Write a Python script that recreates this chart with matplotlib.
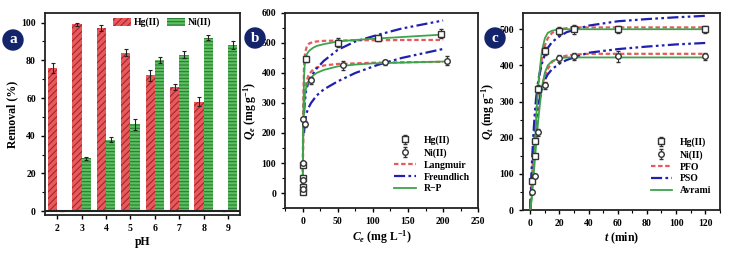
import matplotlib
matplotlib.use("Agg")
import matplotlib.pyplot as plt
import numpy as np
from matplotlib.ticker import MultipleLocator
from matplotlib.patches import Circle

plt.rcParams["font.family"] = ["Liberation Serif", "DejaVu Serif"]
plt.rcParams["font.weight"] = "bold"
plt.rcParams["hatch.linewidth"] = 0.8
plt.rcParams["mathtext.fontset"] = "custom"
plt.rcParams["mathtext.rm"] = "Liberation Serif:bold"
plt.rcParams["mathtext.it"] = "Liberation Serif:italic:bold"
plt.rcParams["mathtext.bf"] = "Liberation Serif:bold"

# panel a - removal vs pH
ph = [2, 3, 4, 5, 6, 7, 8, 9]
hg_removal = [76, 99, 97, 84, 72, 66, 58, 0]
hg_err = [2.5, 1, 1.5, 2, 3, 1.5, 2.5, 0]
ni_removal = [0, 28, 38, 46, 80, 83, 92, 88]
ni_err = [0, 1, 1.5, 3, 1.5, 2, 1.5, 2]

# panel b - isotherms
hg_ce = [0, 0, 0, 0, 5, 50, 108, 197]
hg_qe = [5, 20, 50, 95, 445, 500, 515, 530]
hg_qe_err = [0, 0, 0, 0, 10, 15, 10, 15]
ni_ce = [0, 0, 0, 1, 3, 12, 58, 117, 206]
ni_qe = [15, 45, 100, 245, 230, 375, 425, 435, 440]
ni_qe_err = [0, 0, 0, 0, 10, 12, 15, 8, 15]

c_fit = [0, 1, 2, 3, 4, 6, 8, 10, 15, 20, 30, 50, 75, 100, 150, 200]
hg_langmuir = [0, 300, 420, 455, 472, 488, 495, 499, 503, 505, 507, 508, 509, 509, 510, 510]
ni_langmuir = [0, 200, 290, 330, 352, 375, 390, 398, 412, 418, 425, 430, 432, 434, 436, 437]
hg_rp = [0, 250, 380, 430, 448, 462, 470, 475, 484, 490, 496, 505, 510, 514, 521, 528]
ni_rp = [0, 200, 280, 320, 340, 360, 370, 378, 392, 400, 410, 422, 428, 432, 435, 438]
f_fit = [2, 3, 5, 8, 12, 20, 30, 50, 75, 107, 141, 200]
hg_freundlich = [265, 300, 340, 368, 388, 415, 440, 477, 505, 527, 548, 575]
ni_freundlich = [200, 225, 262, 282, 300, 325, 345, 372, 400, 427, 450, 480]

# panel c - kinetics
hg_t = [1, 3, 3, 5, 10, 20, 30, 60, 120]
hg_qt = [80, 150, 190, 335, 440, 495, 500, 500, 500]
hg_qt_err = [0, 0, 0, 12, 12, 10, 12, 10, 10]
ni_t = [1, 3, 5, 10, 20, 30, 60, 120]
ni_qt = [50, 95, 215, 345, 420, 425, 425, 425]
ni_qt_err = [5, 5, 10, 10, 10, 10, 15, 10]

t_fit = [0, 1, 2, 3, 4, 5, 6, 8, 10, 12, 15, 20, 25, 30, 40, 60, 80, 100, 120]
hg_pfo = [0, 80, 150, 215, 270, 320, 360, 420, 455, 475, 490, 500, 503, 505, 505, 505, 505, 505, 505]
ni_pfo = [0, 60, 120, 175, 220, 262, 300, 345, 370, 390, 410, 422, 427, 430, 432, 432, 432, 432, 432]
hg_pso = [0, 120, 200, 262, 310, 345, 370, 405, 430, 448, 465, 480, 492, 498, 510, 522, 528, 533, 537]
ni_pso = [0, 95, 160, 210, 250, 280, 300, 335, 360, 375, 390, 405, 415, 422, 435, 445, 452, 458, 462]
hg_avrami = [0, 40, 100, 170, 250, 320, 370, 440, 475, 490, 496, 500, 500, 500, 500, 500, 500, 500, 500]
ni_avrami = [0, 30, 80, 130, 180, 228, 270, 340, 380, 400, 412, 420, 422, 422, 422, 422, 422, 422, 422]

red = "#e8585c"
green = "#3fa34d"
blue = "#2020b0"
navy = "#14246a"

fig = plt.figure(figsize=(7.29, 2.54), dpi=100)
ax_a = fig.add_axes([0.0617, 0.1535, 0.268, 0.795])
ax_b = fig.add_axes([0.391, 0.181, 0.265, 0.768])
ax_c = fig.add_axes([0.7174, 0.173, 0.270, 0.776])


def style(ax):
    for sp in ax.spines.values():
        sp.set_linewidth(1.3)
        sp.set_color("#222222")
    ax.tick_params(which="major", direction="out", length=3, width=1, labelsize=7)
    ax.tick_params(which="minor", direction="out", length=2, width=0.8)
    for lab in ax.get_xticklabels() + ax.get_yticklabels():
        lab.set_fontweight("bold")


# panel a
x = np.array(ph)
w = 0.38
ax_a.bar(x - w / 2, hg_removal, w, yerr=hg_err, color=red, edgecolor="#a02828",
         hatch="/////", linewidth=0, label="Hg(II)", capsize=1.5,
         error_kw=dict(elinewidth=0.8, ecolor="#222222", capthick=0.8))
ax_a.bar(x + w / 2, ni_removal, w, yerr=ni_err, color="#5cc060", edgecolor="#2a7a30",
         hatch="-----", linewidth=0, label="Ni(II)", capsize=1.5,
         error_kw=dict(elinewidth=0.8, ecolor="#222222", capthick=0.8))
ax_a.axhline(0, color="#222222", lw=1.5)
ax_a.set_xlim(1.5, 9.5)
ax_a.set_ylim(-2, 105)
ax_a.set_xticks(ph)
ax_a.yaxis.set_major_locator(MultipleLocator(20))
ax_a.yaxis.set_minor_locator(MultipleLocator(10))
ax_a.set_xlabel("pH", fontsize=8.5, fontweight="bold", labelpad=2)
ax_a.set_ylabel("Removal (%)", fontsize=8.5, fontweight="bold", labelpad=2)
ax_a.legend(loc="upper center", ncol=2, frameon=False, fontsize=7, handlelength=1.8,
            handleheight=0.9, columnspacing=0.8, handletextpad=0.3,
            bbox_to_anchor=(0.6, 1.02))
style(ax_a)

# panel b
mk = dict(mfc="white", mec="#333333", ms=4, mew=1, ls="none", ecolor="#333333",
          elinewidth=0.8, capsize=1.5)
dashdotdot = (0, (5, 1.5, 1.2, 1.5, 1.2, 1.5))
ax_b.plot(c_fit, hg_langmuir, color=red, ls=(0, (2, 1.2)), lw=1.6, label="Langmuir", zorder=2)
ax_b.plot(c_fit, ni_langmuir, color=red, ls=(0, (2, 1.2)), lw=1.6, zorder=2)
ax_b.plot(f_fit, hg_freundlich, color=blue, ls=dashdotdot, lw=1.6, label="Freundlich", zorder=2)
ax_b.plot(f_fit, ni_freundlich, color=blue, ls=dashdotdot, lw=1.6, zorder=2)
ax_b.plot(c_fit, hg_rp, color=green, lw=1.3, label="R−P", zorder=3)
ax_b.plot(c_fit, ni_rp, color=green, lw=1.3, zorder=3)
ax_b.errorbar(hg_ce, hg_qe, yerr=hg_qe_err, marker="s", label="Hg(II)", zorder=4, **mk)
ax_b.errorbar(ni_ce, ni_qe, yerr=ni_qe_err, marker="o", label="Ni(II)", zorder=4, **mk)
ax_b.set_xlim(-25, 250)
ax_b.set_ylim(-50, 600)
ax_b.xaxis.set_major_locator(MultipleLocator(50))
ax_b.xaxis.set_minor_locator(MultipleLocator(25))
ax_b.yaxis.set_major_locator(MultipleLocator(100))
ax_b.yaxis.set_minor_locator(MultipleLocator(50))
ax_b.set_xlabel(r"$C_e$ (mg L$^{-1}$)", fontsize=8.5, fontweight="bold", labelpad=2)
ax_b.set_ylabel(r"$Q_e$ (mg g$^{-1}$)", fontsize=8.5, fontweight="bold", labelpad=2)
h, l = ax_b.get_legend_handles_labels()
order = [l.index(k) for k in ["Hg(II)", "Ni(II)", "Langmuir", "Freundlich", "R−P"]]
ax_b.legend([h[i] for i in order], [l[i] for i in order], loc="lower right", frameon=False,
            fontsize=7, handlelength=2.2, labelspacing=0.3, bbox_to_anchor=(1.0, 0.03))
style(ax_b)

# panel c
ax_c.plot(t_fit, hg_pfo, color=red, ls=(0, (2, 1.2)), lw=1.6, label="PFO", zorder=2)
ax_c.plot(t_fit, ni_pfo, color=red, ls=(0, (2, 1.2)), lw=1.6, zorder=2)
ax_c.plot(t_fit, hg_pso, color=blue, ls=dashdotdot, lw=1.6, label="PSO", zorder=2)
ax_c.plot(t_fit, ni_pso, color=blue, ls=dashdotdot, lw=1.6, zorder=2)
ax_c.plot(t_fit, hg_avrami, color=green, lw=1.3, label="Avrami", zorder=3)
ax_c.plot(t_fit, ni_avrami, color=green, lw=1.3, zorder=3)
ax_c.errorbar(hg_t, hg_qt, yerr=hg_qt_err, marker="s", label="Hg(II)", zorder=4, **mk)
ax_c.errorbar(ni_t, ni_qt, yerr=ni_qt_err, marker="o", label="Ni(II)", zorder=4, **mk)
ax_c.set_xlim(-5, 130)
ax_c.set_ylim(0, 545)
ax_c.xaxis.set_major_locator(MultipleLocator(20))
ax_c.xaxis.set_minor_locator(MultipleLocator(10))
ax_c.yaxis.set_major_locator(MultipleLocator(100))
ax_c.yaxis.set_minor_locator(MultipleLocator(50))
ax_c.set_xlabel(r"$t$ (min)", fontsize=8.5, fontweight="bold", labelpad=2)
ax_c.set_ylabel(r"$Q_t$ (mg g$^{-1}$)", fontsize=8.5, fontweight="bold", labelpad=2)
h, l = ax_c.get_legend_handles_labels()
order = [l.index(k) for k in ["Hg(II)", "Ni(II)", "PFO", "PSO", "Avrami"]]
ax_c.legend([h[i] for i in order], [l[i] for i in order], loc="lower right", frameon=False,
            fontsize=7, handlelength=2.2, labelspacing=0.3, bbox_to_anchor=(1.0, 0.03))
style(ax_c)

# panel badges
for cx, cy, letter in [(13, 40, "a"), (255, 38, "b"), (495, 38, "c")]:
    fx, fy = cx / 729, 1 - cy / 254
    fig.patches.append(Circle((cx, 254 - cy), 10, transform=None, color=navy))
    fig.text(fx, fy, letter, color="white", fontsize=11, fontweight="bold",
             ha="center", va="center")

fig.savefig("out.png", dpi=100)
